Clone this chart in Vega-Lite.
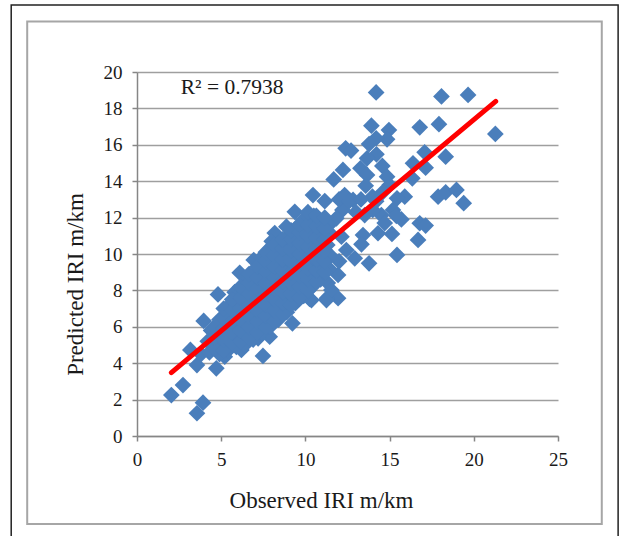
{"$schema":"https://vega.github.io/schema/vega-lite/v6.json","width":421,"height":364,"autosize":{"type":"none"},"padding":{"left":137,"top":72,"right":61,"bottom":100},"background":"white","config":{"view":{"stroke":null},"font":"Liberation Serif"},
"datasets":{"frames":[{"x":-7.47,"x2":28.57,"y":23.68,"y2":-6,"c":"outer"},{"x":-6.52,"x2":27.6,"y":22.77,"y2":-4.84,"c":"inner"}],
"fit":[{"x":2.04,"y":3.48},{"x":21.3,"y":18.39}],
"note":[{"x":2.6,"y":19.1,"t":"R² = 0.7938"}],
"pts":[{"x":14.2,"y":18.88},{"x":18.08,"y":18.66},{"x":19.66,"y":18.74},{"x":21.28,"y":16.6},{"x":13.92,"y":17.05},{"x":14.96,"y":16.81},{"x":14.85,"y":16.3},{"x":16.79,"y":16.96},{"x":17.93,"y":17.13},{"x":14.2,"y":16.36},{"x":13.78,"y":16.04},{"x":12.39,"y":15.81},{"x":12.71,"y":15.68},{"x":14.22,"y":15.48},{"x":13.66,"y":15.26},{"x":17.08,"y":15.59},{"x":18.33,"y":15.35},{"x":16.39,"y":14.98},{"x":17.14,"y":14.74},{"x":14.57,"y":14.84},{"x":12.23,"y":14.62},{"x":13.27,"y":14.71},{"x":13.66,"y":14.34},{"x":11.68,"y":14.1},{"x":14.85,"y":14.25},{"x":15.0,"y":13.79},{"x":16.35,"y":14.16},{"x":13.58,"y":13.75},{"x":17.88,"y":13.15},{"x":18.33,"y":13.39},{"x":18.97,"y":13.52},{"x":19.4,"y":12.79},{"x":15.9,"y":13.15},{"x":15.44,"y":13.06},{"x":12.33,"y":13.24},{"x":13.98,"y":13.15},{"x":11.15,"y":12.91},{"x":10.45,"y":13.24},{"x":12.83,"y":12.97},{"x":15.2,"y":12.42},{"x":12.2,"y":12.42},{"x":11.84,"y":11.96},{"x":14.51,"y":12.14},{"x":14.0,"y":12.42},{"x":13.52,"y":12.14},{"x":16.79,"y":11.69},{"x":17.14,"y":11.56},{"x":16.69,"y":10.77},{"x":15.14,"y":11.1},{"x":14.31,"y":11.14},{"x":14.71,"y":11.7},{"x":13.42,"y":11.04},{"x":13.33,"y":10.53},{"x":15.44,"y":9.95},{"x":13.78,"y":9.49},{"x":12.93,"y":9.76},{"x":12.43,"y":10.22},{"x":12.14,"y":10.95},{"x":11.94,"y":8.85},{"x":11.33,"y":8.41},{"x":11.94,"y":7.57},{"x":11.28,"y":7.57},{"x":10.85,"y":9.12},{"x":10.36,"y":7.47},{"x":9.37,"y":12.32},{"x":9.86,"y":11.87},{"x":8.18,"y":11.15},{"x":8.87,"y":11.5},{"x":10.45,"y":10.95},{"x":11.54,"y":8.02},{"x":4.81,"y":7.78},{"x":3.96,"y":6.32},{"x":6.1,"y":8.97},{"x":6.93,"y":9.67},{"x":9.23,"y":6.19},{"x":7.48,"y":4.4},{"x":3.56,"y":3.9},{"x":4.71,"y":3.72},{"x":3.17,"y":4.73},{"x":7.88,"y":5.46},{"x":7.19,"y":5.37},{"x":6.2,"y":4.73},{"x":5.21,"y":4.36},{"x":10.25,"y":7.53},{"x":11.25,"y":7.47},{"x":2.04,"y":2.25},{"x":2.73,"y":2.8},{"x":3.56,"y":1.25},{"x":3.92,"y":1.83},
{"x":3.8,"y":4.5},{"x":4.3,"y":4.6},{"x":4.2,"y":5.2},{"x":4.4,"y":5.8},{"x":4.9,"y":4.5},{"x":4.8,"y":5.1},{"x":5.0,"y":5.7},{"x":4.9,"y":6.4},{"x":5.4,"y":4.7},{"x":5.5,"y":5.3},{"x":5.3,"y":5.9},{"x":5.5,"y":6.5},{"x":5.4,"y":7.1},{"x":5.9,"y":4.9},{"x":6.0,"y":5.5},{"x":5.8,"y":6.1},{"x":6.0,"y":6.7},{"x":5.9,"y":7.3},{"x":5.8,"y":7.9},{"x":6.4,"y":5.0},{"x":6.5,"y":5.6},{"x":6.3,"y":6.2},{"x":6.5,"y":6.8},{"x":6.4,"y":7.4},{"x":6.3,"y":8.0},{"x":6.5,"y":8.5},{"x":6.9,"y":5.3},{"x":7.0,"y":5.9},{"x":6.8,"y":6.5},{"x":7.0,"y":7.1},{"x":6.9,"y":7.7},{"x":6.8,"y":8.3},{"x":7.0,"y":8.9},{"x":7.4,"y":5.7},{"x":7.5,"y":6.3},{"x":7.3,"y":6.9},{"x":7.5,"y":7.5},{"x":7.4,"y":8.1},{"x":7.3,"y":8.7},{"x":7.5,"y":9.3},{"x":7.4,"y":9.8},{"x":7.9,"y":6.0},{"x":8.0,"y":6.6},{"x":7.8,"y":7.2},{"x":8.0,"y":7.8},{"x":7.9,"y":8.4},{"x":7.8,"y":9.0},{"x":8.0,"y":9.6},{"x":7.9,"y":10.3},{"x":8.0,"y":10.7},{"x":8.4,"y":6.4},{"x":8.5,"y":7.0},{"x":8.3,"y":7.6},{"x":8.5,"y":8.2},{"x":8.4,"y":8.8},{"x":8.3,"y":9.4},{"x":8.5,"y":10.0},{"x":8.4,"y":10.6},{"x":8.9,"y":6.8},{"x":9.0,"y":7.4},{"x":8.8,"y":8.0},{"x":9.0,"y":8.6},{"x":8.9,"y":9.2},{"x":8.8,"y":9.8},{"x":9.0,"y":10.4},{"x":8.9,"y":10.9},{"x":9.4,"y":7.3},{"x":9.5,"y":7.9},{"x":9.3,"y":8.5},{"x":9.5,"y":9.1},{"x":9.4,"y":9.7},{"x":9.3,"y":10.3},{"x":9.5,"y":10.9},{"x":9.4,"y":11.4},{"x":9.9,"y":7.7},{"x":10.0,"y":8.3},{"x":9.8,"y":8.9},{"x":10.0,"y":9.5},{"x":9.9,"y":10.1},{"x":9.8,"y":10.7},{"x":10.0,"y":11.3},{"x":10.4,"y":8.2},{"x":10.5,"y":8.8},{"x":10.3,"y":9.4},{"x":10.5,"y":10.0},{"x":10.4,"y":10.6},{"x":10.3,"y":11.5},{"x":10.5,"y":12.1},{"x":10.9,"y":8.6},{"x":11.0,"y":9.5},{"x":10.8,"y":10.1},{"x":11.0,"y":10.7},{"x":10.9,"y":11.3},{"x":10.8,"y":11.9},{"x":11.4,"y":9.2},{"x":11.5,"y":9.9},{"x":11.3,"y":10.5},{"x":11.5,"y":11.1},{"x":11.4,"y":11.6},{"x":12.0,"y":9.6},{"x":12.0,"y":13.0},{"x":12.6,"y":12.9},{"x":13.3,"y":13.0},{"x":14.6,"y":13.4},{"x":14.2,"y":12.9},{"x":13.0,"y":12.3},{"x":15.7,"y":11.9},{"x":15.4,"y":12.1},
{"x":4.6,"y":4.8},{"x":4.6,"y":5.4},{"x":4.6,"y":6.0},{"x":5.15,"y":4.7},{"x":5.15,"y":5.3},{"x":5.15,"y":5.9},{"x":5.15,"y":6.5},{"x":5.15,"y":7.0},{"x":5.65,"y":5.1},{"x":5.65,"y":5.7},{"x":5.65,"y":6.3},{"x":5.65,"y":6.9},{"x":5.65,"y":7.5},{"x":6.15,"y":5.2},{"x":6.15,"y":5.8},{"x":6.15,"y":6.4},{"x":6.15,"y":7.0},{"x":6.15,"y":7.6},{"x":6.15,"y":8.2},{"x":6.65,"y":5.4},{"x":6.65,"y":6.0},{"x":6.65,"y":6.6},{"x":6.65,"y":7.2},{"x":6.65,"y":7.8},{"x":6.65,"y":8.4},{"x":6.65,"y":8.9},{"x":7.15,"y":5.7},{"x":7.15,"y":6.3},{"x":7.15,"y":6.9},{"x":7.15,"y":7.5},{"x":7.15,"y":8.1},{"x":7.15,"y":8.7},{"x":7.15,"y":9.3},{"x":7.65,"y":6.0},{"x":7.65,"y":6.6},{"x":7.65,"y":7.2},{"x":7.65,"y":7.8},{"x":7.65,"y":8.4},{"x":7.65,"y":9.0},{"x":7.65,"y":9.6},{"x":7.65,"y":10.1},{"x":8.15,"y":6.3},{"x":8.15,"y":6.9},{"x":8.15,"y":7.5},{"x":8.15,"y":8.1},{"x":8.15,"y":8.7},{"x":8.15,"y":9.3},{"x":8.15,"y":9.9},{"x":8.15,"y":10.5},{"x":8.65,"y":6.7},{"x":8.65,"y":7.3},{"x":8.65,"y":7.9},{"x":8.65,"y":8.5},{"x":8.65,"y":9.1},{"x":8.65,"y":9.7},{"x":8.65,"y":10.3},{"x":8.65,"y":10.8},{"x":9.15,"y":7.2},{"x":9.15,"y":7.8},{"x":9.15,"y":8.4},{"x":9.15,"y":9.0},{"x":9.15,"y":9.6},{"x":9.15,"y":10.2},{"x":9.15,"y":10.8},{"x":9.15,"y":11.3},{"x":9.65,"y":7.6},{"x":9.65,"y":8.2},{"x":9.65,"y":8.8},{"x":9.65,"y":9.4},{"x":9.65,"y":10.0},{"x":9.65,"y":10.6},{"x":9.65,"y":11.2},{"x":9.65,"y":11.6},{"x":10.15,"y":8.0},{"x":10.15,"y":8.6},{"x":10.15,"y":9.2},{"x":10.15,"y":9.8},{"x":10.15,"y":10.4},{"x":10.15,"y":11.0},{"x":10.15,"y":11.6},{"x":10.15,"y":12.3},{"x":10.65,"y":8.5},{"x":10.65,"y":9.1},{"x":10.65,"y":9.7},{"x":10.65,"y":10.3},{"x":10.65,"y":10.9},{"x":10.65,"y":11.5},{"x":10.65,"y":12.1},{"x":11.15,"y":9.0},{"x":11.15,"y":9.6},{"x":11.15,"y":10.2},{"x":11.15,"y":10.8},{"x":11.15,"y":11.4},{"x":11.15,"y":12.0}]},
"layer":[
{"data":{"name":"frames"},"mark":{"type":"rect","fill":null,"fillOpacity":0,"clip":false},"encoding":{"x":{"field":"x","type":"quantitative","scale":{"domain":[0,25],"nice":false},"axis":{"values":[0,5,10,15,20,25],"title":"Observed IRI m/km","titleX":184,"grid":false,"labelFlush":false,"labelOverlap":false,"domainColor":"#868686","domainWidth":1.5,"tickColor":"#868686","tickWidth":1.5,"tickSize":5,"labelFont":"Liberation Serif","labelFontSize":19,"labelColor":"#1a1a1a","labelPadding":9,"titleFont":"Liberation Serif","titleFontSize":23,"titleFontWeight":"normal","titleColor":"#1a1a1a","titlePadding":20}},"x2":{"field":"x2"},"y":{"field":"y","type":"quantitative","scale":{"domain":[0,20],"nice":false},"axis":{"tickCount":11,"title":"Predicted IRI m/km","titleY":212,"grid":true,"labelFlush":false,"labelOverlap":false,"gridColor":"#9f9f9f","gridWidth":1.5,"domainColor":"#868686","domainWidth":1.5,"tickColor":"#868686","tickWidth":1.5,"tickSize":5,"labelFont":"Liberation Serif","labelFontSize":19,"labelColor":"#1a1a1a","labelPadding":10,"titleFont":"Liberation Serif","titleFontSize":23,"titleFontWeight":"normal","titleColor":"#1a1a1a","titlePadding":16}},"y2":{"field":"y2"},"stroke":{"field":"c","type":"nominal","scale":{"domain":["outer","inner"],"range":["#222222","#a6a6a6"]},"legend":null},"strokeWidth":{"field":"c","type":"nominal","scale":{"domain":["outer","inner"],"range":[1.5,2]},"legend":null}}},
{"data":{"name":"pts"},"mark":{"type":"point","shape":"diamond","filled":true,"size":280,"color":"#4a7ebb","opacity":1,"clip":false},"encoding":{"x":{"field":"x","type":"quantitative"},"y":{"field":"y","type":"quantitative"}}},
{"data":{"name":"fit"},"mark":{"type":"line","color":"#ff0000","strokeWidth":5,"strokeCap":"round"},"encoding":{"x":{"field":"x","type":"quantitative"},"y":{"field":"y","type":"quantitative"}}},
{"data":{"name":"note"},"mark":{"type":"text","align":"left","baseline":"middle","font":"Liberation Serif","fontSize":21.5,"color":"#1a1a1a"},"encoding":{"x":{"field":"x","type":"quantitative"},"y":{"field":"y","type":"quantitative"},"text":{"field":"t"}}}
]}
